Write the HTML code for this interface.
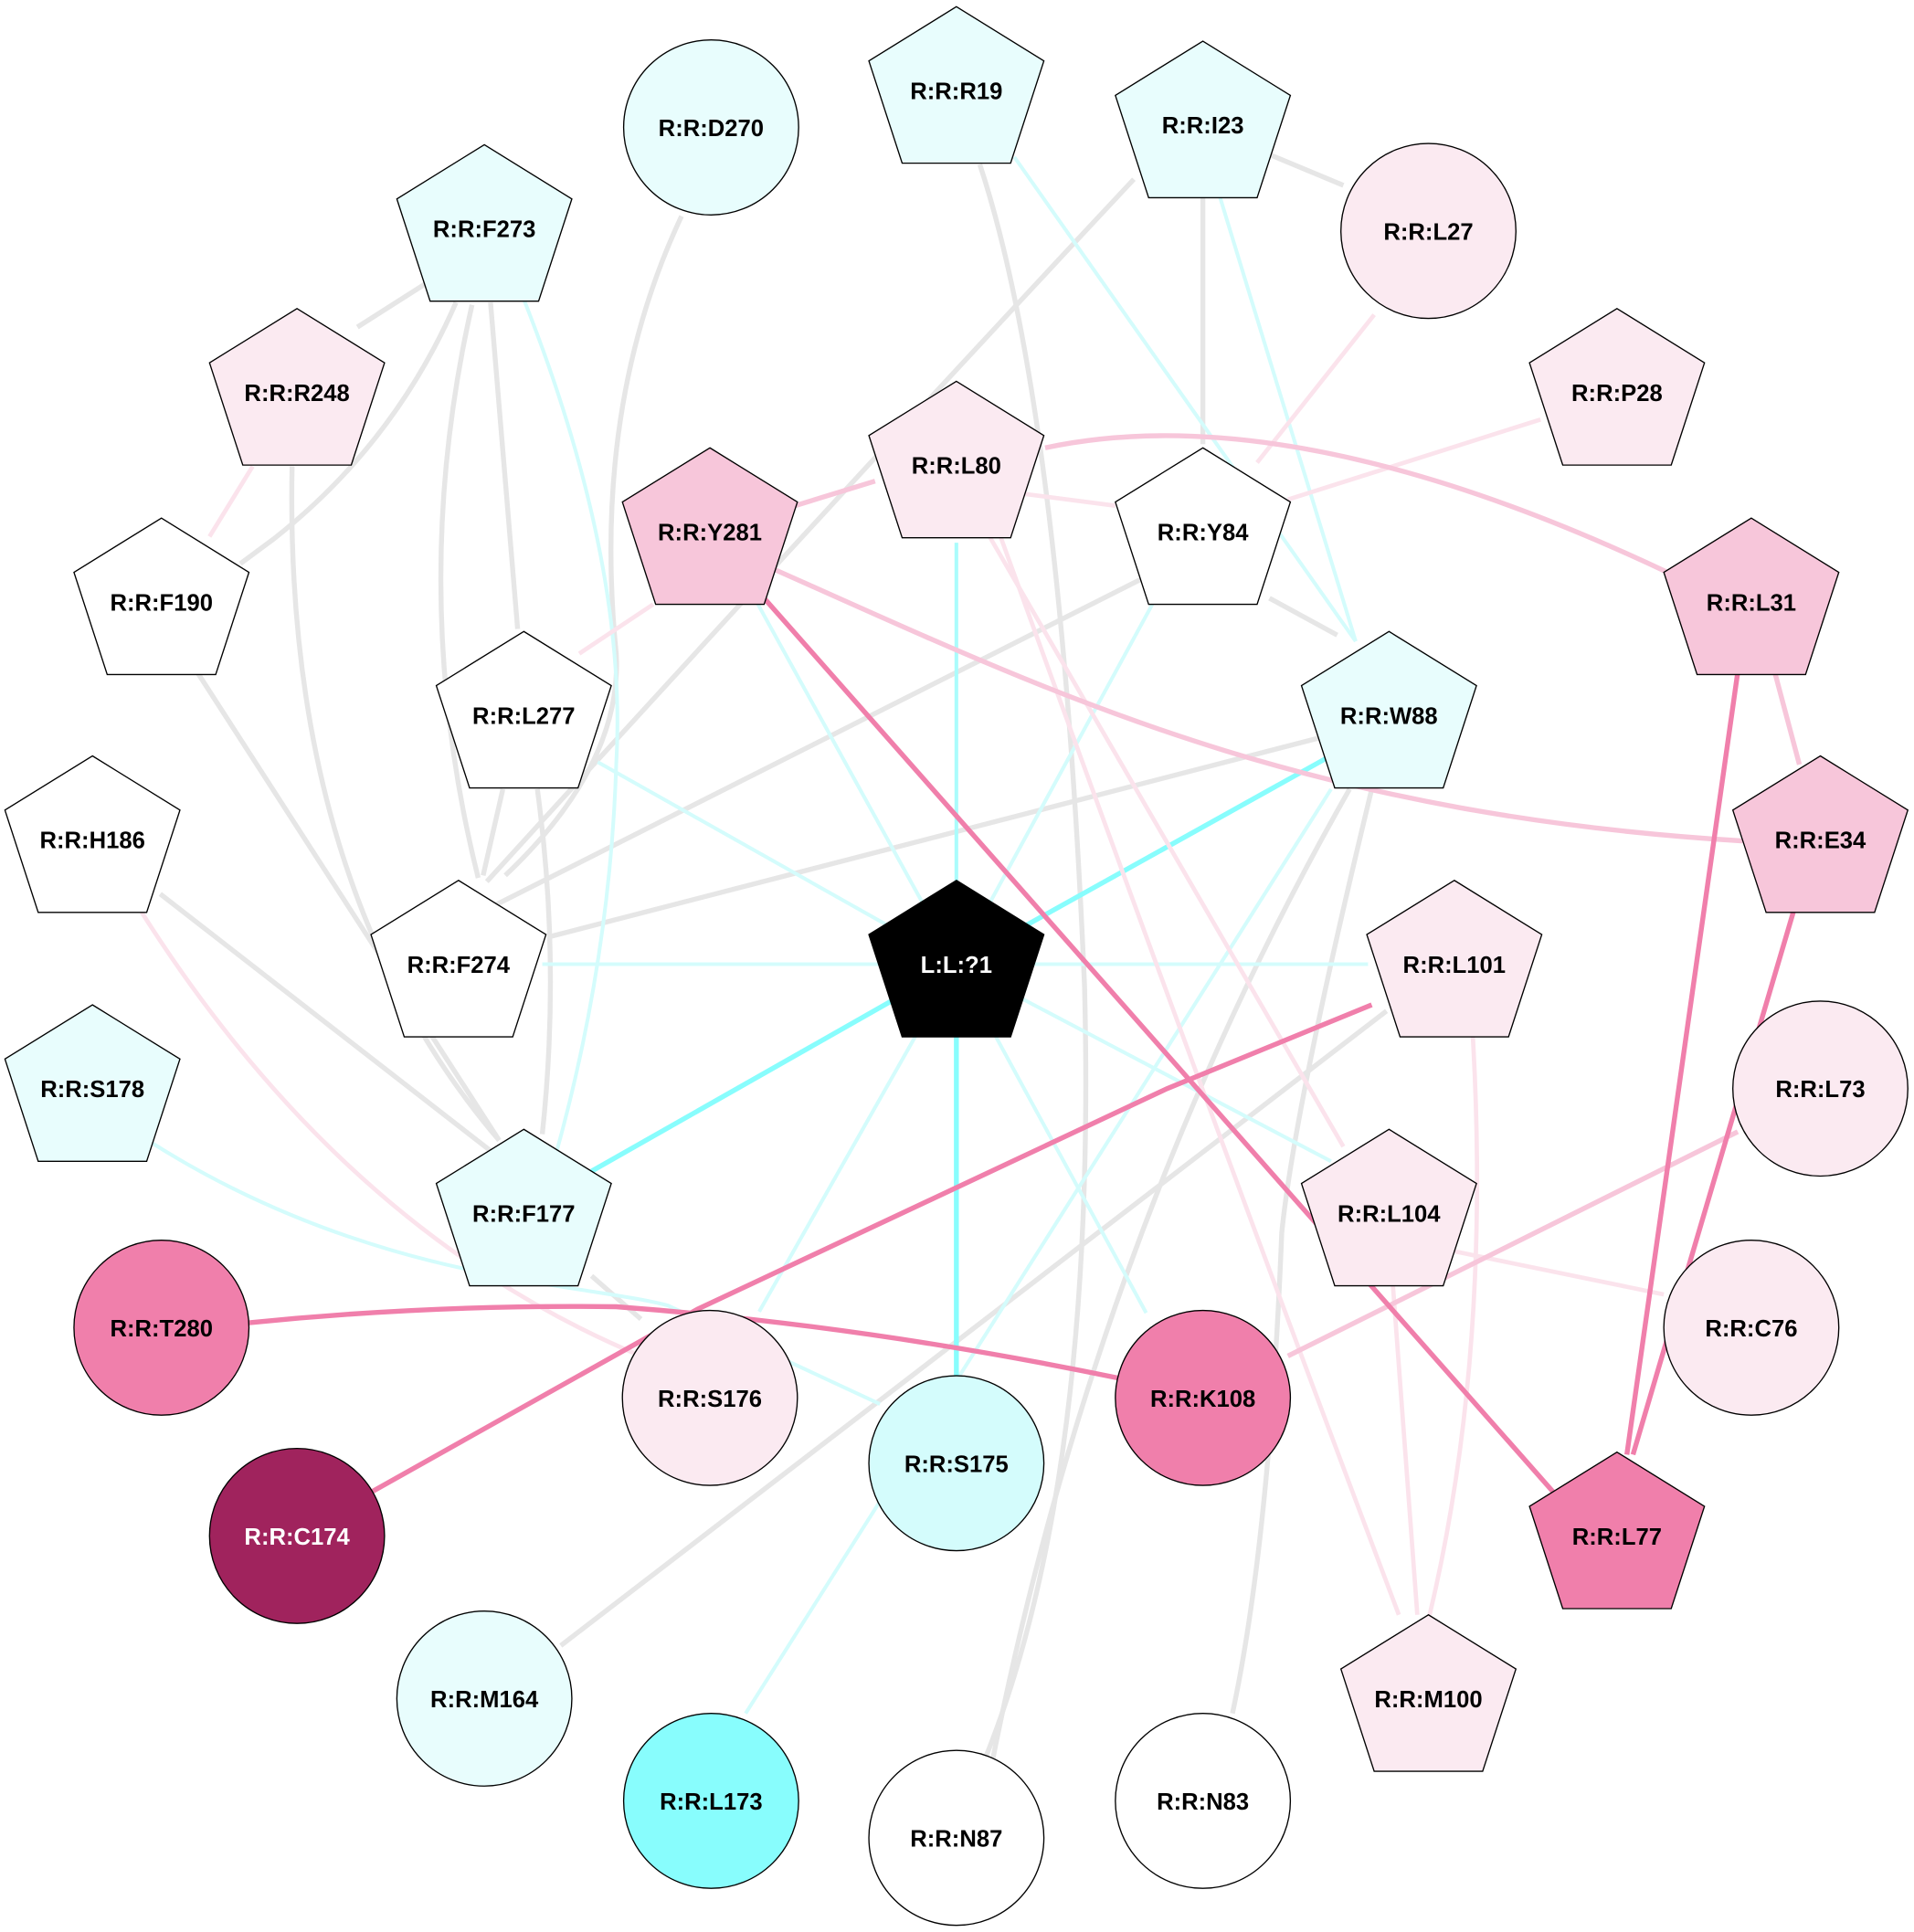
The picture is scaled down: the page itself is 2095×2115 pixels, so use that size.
<!DOCTYPE html>
<html><head><meta charset="utf-8"><style>html,body{margin:0;padding:0;background:#fff}svg{display:block}</style></head>
<body>
<svg width="2095" height="2115" viewBox="0 0 1553 1567" xmlns="http://www.w3.org/2000/svg">
<defs>
<polygon id="pg" points="0,-68 71,-24 44,59 -44,59 -71,-24" stroke="#000" stroke-width="1"/>
</defs>
<g fill="none" stroke-linecap="butt">
<!-- grey edges -->
<g stroke="#e6e6e6" stroke-width="4">
<path d="M345,230 L290,265"/>
<path d="M370,245 Q320,360 222,437 L195,457"/>
<path d="M383,247 Q330,480 388,712"/>
<path d="M398,245 L420,510"/>
<path d="M237,378 Q230,720 405,925"/>
<path d="M160,545 L405,925"/>
<path d="M130,725 L400,935"/>
<path d="M408,640 L392,710"/>
<path d="M436,640 Q455,780 440,920"/>
<path d="M553,175 Q480,330 500,530 Q505,620 410,710"/>
<path d="M920,145 Q700,380 395,715"/>
<path d="M935,465 L400,735"/>
<path d="M1072,598 Q760,680 445,760"/>
<path d="M976,160 L976,360"/>
<path d="M1030,125 L1090,150"/>
<path d="M1030,485 L1085,515"/>
<path d="M795,133 Q860,330 880,800 Q890,1200 800,1425"/>
<path d="M1095,640 Q890,1000 805,1430"/>
<path d="M1113,640 Q1050,900 1040,1000 Q1030,1250 1000,1390"/>
<path d="M1125,820 L455,1335"/>
<path d="M480,1035 L520,1070"/>
</g>
<!-- light cyan -->
<g stroke="#d4fcfc" stroke-width="3">
<path d="M418,225 Q510,450 500,620 Q495,780 450,940"/>
<path d="M823,127 L1100,520"/>
<path d="M990,160 L1100,520"/>
<path d="M1080,640 L605,1390"/>
<path d="M120,925 C300,1040 470,1040 542,1059 L714,1139"/>
<path d="M776,782 L440,782"/>
<path d="M776,782 L1110,782"/>
<path d="M776,782 L935,490"/>
<path d="M776,782 L485,618"/>
<path d="M776,782 L615,490"/>
<path d="M776,782 L1080,942"/>
<path d="M776,782 L616,1064"/>
<path d="M776,782 L930,1065"/>
</g>
<path d="M776,782 L776,440" stroke="#aafcfc" stroke-width="3"/>
<g stroke="#88fdfd" stroke-width="4">
<path d="M776,782 L776,1117"/>
<path d="M776,782 L1085,610"/>
<path d="M776,782 L480,950"/>
</g>
<!-- pink light -->
<g stroke="#fbe3ec" stroke-width="3.5">
<path d="M205,378 L170,435"/>
<path d="M1115,255 L1020,375"/>
<path d="M1250,340 L1045,405"/>
<path d="M828,400 L905,410"/>
<path d="M800,430 L1090,930"/>
<path d="M810,430 Q980,900 1135,1310"/>
<path d="M1195,840 Q1210,1100 1160,1310"/>
<path d="M1130,1040 L1150,1310"/>
<path d="M1180,1015 L1350,1050"/>
<path d="M115,740 Q280,1000 520,1100"/>
<path d="M530,490 L470,530"/>
</g>
<!-- pink medium -->
<g stroke="#f7c6da" stroke-width="4">
<path d="M645,410 L710,390"/>
<path d="M848,363 Q1050,320 1355,465"/>
<path d="M629,462 C850,560 1050,660 1414,682"/>
<path d="M1440,545 L1460,620"/>
<path d="M1410,918 L1045,1100"/>
</g>
<!-- pink strong -->
<g stroke="#f07fab" stroke-width="4">
<path d="M620,485 Q900,800 1260,1210"/>
<path d="M1410,545 L1320,1180"/>
<path d="M1455,740 L1325,1180"/>
<path d="M1113,815 L947,883 Q760,970 566,1062 L302,1210"/>
<path d="M202,1073 Q350,1058 500,1060 Q700,1075 908,1118"/>
</g>
</g>
<!-- nodes -->
<g font-family="Liberation Sans, sans-serif" font-weight="bold" font-size="19" text-anchor="middle" stroke="#000" stroke-width="1">
<circle cx="577" cy="103" r="71" fill="#e8fdfd"/>
<circle cx="1159" cy="187" r="71" fill="#fbeaf1"/>
<circle cx="1477" cy="883" r="71" fill="#fbeaf1"/>
<circle cx="131" cy="1077" r="71" fill="#f07fab"/>
<circle cx="1421" cy="1077" r="71" fill="#fbeaf1"/>
<circle cx="576" cy="1134" r="71" fill="#fbeaf1"/>
<circle cx="976" cy="1134" r="71" fill="#f07fab"/>
<circle cx="776" cy="1187" r="71" fill="#d4fcfc"/>
<circle cx="241" cy="1246" r="71" fill="#a0235d"/>
<circle cx="393" cy="1378" r="71" fill="#e8fdfd"/>
<circle cx="577" cy="1461" r="71" fill="#88fdfd"/>
<circle cx="776" cy="1491" r="71" fill="#fff"/>
<circle cx="976" cy="1461" r="71" fill="#fff"/>
<use href="#pg" x="776" y="73" fill="#e8fdfd"/>
<use href="#pg" x="976" y="101" fill="#e8fdfd"/>
<use href="#pg" x="393" y="185" fill="#e8fdfd"/>
<use href="#pg" x="241" y="318" fill="#fbeaf1"/>
<use href="#pg" x="1312" y="318" fill="#fbeaf1"/>
<use href="#pg" x="776" y="377" fill="#fbeaf1"/>
<use href="#pg" x="576" y="431" fill="#f7c6da"/>
<use href="#pg" x="976" y="431" fill="#fff"/>
<use href="#pg" x="131" y="488" fill="#fff"/>
<use href="#pg" x="1421" y="488" fill="#f7c6da"/>
<use href="#pg" x="425" y="580" fill="#fff"/>
<use href="#pg" x="1127" y="580" fill="#e8fdfd"/>
<use href="#pg" x="75" y="681" fill="#fff"/>
<use href="#pg" x="1477" y="681" fill="#f7c6da"/>
<use href="#pg" x="372" y="782" fill="#fff"/>
<use href="#pg" x="776" y="782" fill="#000"/>
<use href="#pg" x="1180" y="782" fill="#fbeaf1"/>
<use href="#pg" x="75" y="883" fill="#e8fdfd"/>
<use href="#pg" x="425" y="984" fill="#e8fdfd"/>
<use href="#pg" x="1127" y="984" fill="#fbeaf1"/>
<use href="#pg" x="1312" y="1246" fill="#f07fab"/>
<use href="#pg" x="1159" y="1378" fill="#fbeaf1"/>
</g>
<g font-family="Liberation Sans, sans-serif" font-weight="bold" font-size="19" text-anchor="middle" fill="#000">
<text x="577" y="110">R:R:D270</text>
<text x="1159" y="194">R:R:L27</text>
<text x="1477" y="890">R:R:L73</text>
<text x="131" y="1084">R:R:T280</text>
<text x="1421" y="1084">R:R:C76</text>
<text x="576" y="1141">R:R:S176</text>
<text x="976" y="1141">R:R:K108</text>
<text x="776" y="1194">R:R:S175</text>
<text x="241" y="1253" fill="#fff">R:R:C174</text>
<text x="393" y="1385">R:R:M164</text>
<text x="577" y="1468">R:R:L173</text>
<text x="776" y="1498">R:R:N87</text>
<text x="976" y="1468">R:R:N83</text>
<text x="776" y="80">R:R:R19</text>
<text x="976" y="108">R:R:I23</text>
<text x="393" y="192">R:R:F273</text>
<text x="241" y="325">R:R:R248</text>
<text x="1312" y="325">R:R:P28</text>
<text x="776" y="384">R:R:L80</text>
<text x="576" y="438">R:R:Y281</text>
<text x="976" y="438">R:R:Y84</text>
<text x="131" y="495">R:R:F190</text>
<text x="1421" y="495">R:R:L31</text>
<text x="425" y="587">R:R:L277</text>
<text x="1127" y="587">R:R:W88</text>
<text x="75" y="688">R:R:H186</text>
<text x="1477" y="688">R:R:E34</text>
<text x="372" y="789">R:R:F274</text>
<text x="776" y="789" fill="#fff">L:L:?1</text>
<text x="1180" y="789">R:R:L101</text>
<text x="75" y="890">R:R:S178</text>
<text x="425" y="991">R:R:F177</text>
<text x="1127" y="991">R:R:L104</text>
<text x="1312" y="1253">R:R:L77</text>
<text x="1159" y="1385">R:R:M100</text>
</g>
</svg>
</body></html>
